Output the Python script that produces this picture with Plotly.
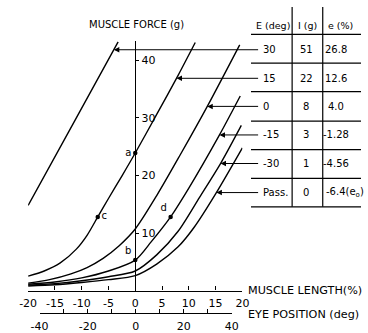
import numpy as np
import plotly.graph_objects as go

W, H = 368, 333

# ---- data: muscle length (%) vs muscle force (g), one curve per innervation level ----
len_e30 = [-20.0, -11.0, -3.2]
force_e30 = [14.8, 30.0, 43.2]
len_e15 = [-20.0, -17, -14, -11, -9, -7, -5, -2.5, 0, 4, 8, 11.2]
force_e15 = [2.5, 3.4, 4.8, 7.2, 9.6, 12.8, 16.0, 19.9, 23.9, 30.6, 37.4, 43.1]
len_e0 = [-20, -16, -12, -9, -6, -3, 0, 4, 8.4, 13.5, 19.5]
force_e0 = [1.3, 1.9, 2.9, 4.0, 5.6, 7.8, 10.7, 16.5, 23.6, 32.1, 42.7]
len_em15 = [-20, -15, -10, -5, 0, 3, 6.6, 10, 15.7, 19.6]
force_em15 = [1.1, 1.5, 2.2, 3.4, 5.3, 8.5, 12.8, 17.8, 27.0, 33.8]
len_em30 = [-20, -15, -10, -5, 0, 4, 8, 12, 16, 19.8]
force_em30 = [0.95, 1.2, 1.7, 2.4, 3.4, 6.2, 10.3, 16.2, 22.2, 28.7]
len_pass = [-20, -15, -10, -5, 0, 4, 8, 11, 15, 20]
force_pass = [0.8, 1.0, 1.4, 1.9, 2.6, 4.6, 7.6, 11.0, 16.8, 24.8]

# table
E_deg = ["30", "15", "0", "-15", "-30", "Pass."]
I_g = ["51", "22", "8", "3", "1", "0"]
e_pct = ["26.8", "12.6", "4.0", "-1.28", "-4.56", "-6.4(e<sub>o</sub>)"]

# marked points
pt_labels = ["a", "b", "c", "d"]
pt_len = [0, 0, -7, 6.6]
pt_force = [23.9, 5.3, 12.8, 12.8]

# axes
len_ticks = [-20, -15, -10, -5, 0, 5, 10, 15, 20]
len_ticktext = ["-20", "-15", "-10", "-5", "0", "5", "10", "15", "20"]
eye_ticks = [-40, -30, -20, -10, 0, 10, 20, 30, 40]
eye_ticktext = ["-40", "", "-20", "", "0", "", "20", "", "40"]
force_ticks = [10, 20, 30, 40]

curves = [(len_e30, force_e30), (len_e15, force_e15), (len_e0, force_e0),
          (len_em15, force_em15), (len_em30, force_em30), (len_pass, force_pass)]

# ---- layout geometry (pixels -> paper) ----
def px(x):
    return x / W

def py(y):
    return 1 - y / H

XR = [-20, 20]
YR = [0, 43.3]
xdom = [px(20), px(244)]
ydom = [py(295), py(42)]
x2dom = [px(32), px(233)]

def paper_to_xdata(p):
    return XR[0] + (p - xdom[0]) / (xdom[1] - xdom[0]) * (XR[1] - XR[0])

def paper_to_ydata(p):
    return YR[0] + (p - ydom[0]) / (ydom[1] - ydom[0]) * (YR[1] - YR[0])

FONT = "DejaVu Sans"
fig = go.Figure()

# invisible trace activating eye-position axis
fig.add_trace(go.Scatter(x=eye_ticks, y=[0] * len(eye_ticks), xaxis="x2", yaxis="y", mode="markers",
                         marker=dict(opacity=0), showlegend=False, hoverinfo="skip"))

for lx, fy in curves:
    fig.add_trace(go.Scatter(x=lx, y=fy, mode="lines", line=dict(color="black", width=1.4, shape="spline", smoothing=0.8),
                             hoverinfo="skip", showlegend=False))

fig.add_trace(go.Scatter(x=pt_len, y=pt_force, mode="markers+text", text=pt_labels,
                         textposition=["middle left", "top left", "middle right", "top left"],
                         textfont=dict(family=FONT, size=10, color="black"),
                         marker=dict(color="black", size=4.5), showlegend=False, hoverinfo="skip"))

annotations = []
shapes = []

# table rows
row_px = [50.5, 79.5, 108, 137, 166, 195.5]
tail_x = paper_to_xdata(px(262))
for i, ry in enumerate(row_px):
    yd = paper_to_ydata(py(ry))
    lx, fy = curves[i]
    xt = float(np.interp(yd, fy, lx))
    annotations.append(dict(x=xt, y=yd, ax=tail_x, ay=yd, xref="x", yref="y", axref="x", ayref="y",
                            text="", showarrow=True, arrowhead=2, arrowsize=1.1, arrowwidth=1, arrowcolor="black",
                            standoff=0, startstandoff=0))
    annotations.append(dict(x=px(263), y=py(ry), xref="paper", yref="paper", text=E_deg[i], showarrow=False,
                            xanchor="left", yanchor="middle", font=dict(family=FONT, size=10, color="black")))
    annotations.append(dict(x=px(311), y=py(ry), xref="paper", yref="paper", text=I_g[i], showarrow=False,
                            xanchor="center", yanchor="middle", font=dict(family=FONT, size=10, color="black")))
    if i < 5:
        annotations.append(dict(x=px(342), y=py(ry), xref="paper", yref="paper", text=e_pct[i], showarrow=False,
                                xanchor="center", yanchor="middle", font=dict(family=FONT, size=10, color="black")))
    else:
        annotations.append(dict(x=px(329), y=py(ry), xref="paper", yref="paper", text=e_pct[i], showarrow=False,
                                xanchor="left", yanchor="middle", font=dict(family=FONT, size=10, color="black")))

headers = [("E (deg)", 276), ("I (g)", 312), ("e (%)", 347)]
for t, hx in headers:
    annotations.append(dict(x=px(hx), y=py(26), xref="paper", yref="paper", text=t, showarrow=False,
                            xanchor="center", yanchor="middle", font=dict(family=FONT, size=9.5, color="black")))

for ly in [35, 64, 93, 123, 152, 181, 210]:
    shapes.append(dict(type="line", xref="paper", yref="paper", x0=px(253), x1=1, y0=py(ly), y1=py(ly),
                       line=dict(color="black", width=1.2)))
for vx in [296, 328]:
    shapes.append(dict(type="line", xref="paper", yref="paper", x0=px(vx), x1=px(vx), y0=py(7), y1=py(210),
                       line=dict(color="black", width=1.2)))

# axis titles
annotations.append(dict(x=px(133), y=py(25), xref="paper", yref="paper", text="MUSCLE FORCE (g)", showarrow=False,
                        xanchor="center", yanchor="middle", font=dict(family=FONT, size=10, color="black")))
annotations.append(dict(x=px(248), y=py(295), xref="paper", yref="paper", text="MUSCLE LENGTH(%)", showarrow=False,
                        xanchor="left", yanchor="middle", font=dict(family=FONT, size=11.2, color="black")))
annotations.append(dict(x=px(248), y=py(319), xref="paper", yref="paper", text="EYE POSITION (deg)", showarrow=False,
                        xanchor="left", yanchor="middle", font=dict(family=FONT, size=11.2, color="black")))

ypos = xdom[0] + (0 - XR[0]) / (XR[1] - XR[0]) * (xdom[1] - xdom[0])

fig.update_layout(
    width=W, height=H, autosize=False,
    margin=dict(l=0, r=0, t=0, b=0, pad=0),
    paper_bgcolor="white", plot_bgcolor="rgba(0,0,0,0)",
    showlegend=False,
    xaxis=dict(domain=xdom, range=XR, tickvals=len_ticks, ticktext=len_ticktext, ticks="inside", ticklen=4,
               tickcolor="black", tickwidth=1.2, showline=True, linecolor="black", linewidth=1.3,
               showgrid=False, zeroline=False, anchor="y", ticklabelstandoff=2,
               tickfont=dict(family=FONT, size=11, color="black")),
    xaxis2=dict(domain=x2dom, range=[-40, 40], tickvals=eye_ticks, ticktext=eye_ticktext, ticks="inside", ticklen=4,
                tickcolor="black", tickwidth=1.2, showline=True, linecolor="black", linewidth=1.3,
                showgrid=False, zeroline=False, anchor="free", position=py(318), ticklabelstandoff=2,
                tickfont=dict(family=FONT, size=11, color="black")),
    yaxis=dict(domain=ydom, range=YR, tickvals=force_ticks, ticks="outside", ticklen=3, side="right",
               tickcolor="black", tickwidth=1.2, showline=True, linecolor="black", linewidth=1.3,
               showgrid=False, zeroline=False, anchor="free", position=ypos,
               tickfont=dict(family=FONT, size=11, color="black")),
    annotations=annotations,
    shapes=shapes,
)

fig.write_html("out.html", config={"displayModeBar": False},
               post_script="document.body.style.margin='0';document.body.style.padding='0';")
